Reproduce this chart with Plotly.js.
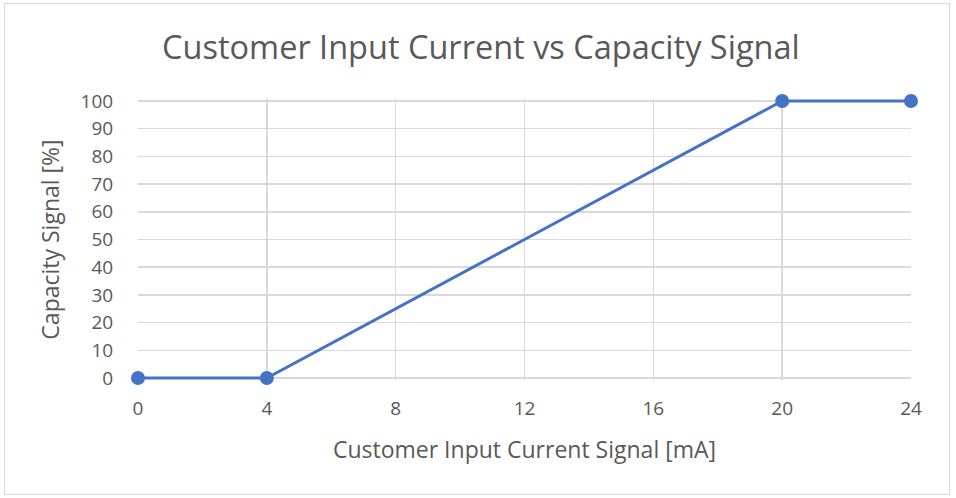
<!DOCTYPE html>
<html>
<head>
<meta charset="utf-8">
<script src="https://cdn.plot.ly/plotly-3.0.1.min.js"></script>
<style>
  html, body { margin: 0; padding: 0; background: #fff; }
  #wrap { position: relative; width: 956px; height: 498px; }
  #chart { width: 956px; height: 498px; }
  #frame { position: absolute; left: 4px; top: 3px; width: 946px; height: 492px;
           border: 1px solid #D9D9D9; pointer-events: none; box-sizing: border-box; }
</style>
</head>
<body>
<div id="wrap">
  <div id="chart"></div>
  <div id="frame"></div>
</div>
<script>
const currentMA = [0, 4, 20, 24];
const capacityPct = [0, 0, 100, 100];
const xTicks = [0, 4, 8, 12, 16, 20, 24];
const yTicks = [0, 10, 20, 30, 40, 50, 60, 70, 80, 90, 100];

const textColor = '#595959';
const gridColor = '#D9D9D9';
const fontFamily = 'Open Sans, sans-serif';

const trace = {
  x: currentMA,
  y: capacityPct,
  type: 'scatter',
  mode: 'lines+markers',
  line: { color: '#4472C4', width: 3 },
  marker: { color: '#4472C4', size: 14 },
  cliponaxis: false,
  hoverinfo: 'x+y'
};

const layout = {
  width: 956,
  height: 498,
  margin: { l: 138, r: 45, t: 99, b: 118 },
  paper_bgcolor: '#fff',
  plot_bgcolor: '#fff',
  showlegend: false,
  font: { family: fontFamily, color: textColor, size: 19 },
  title: {
    text: 'Customer Input Current vs Capacity Signal',
    font: { family: fontFamily, size: 32.5, color: textColor },
    x: 0.503, xanchor: 'center',
    y: 0.905, yanchor: 'middle'
  },
  xaxis: {
    range: [0, 24],
    tickvals: xTicks,
    ticktext: xTicks.map(String),
    showgrid: true,
    gridcolor: gridColor,
    gridwidth: 1.5,
    zeroline: false,
    showline: false,
    layer: 'below traces',
    ticks: 'outside',
    ticklen: 11,
    tickcolor: 'rgba(0,0,0,0)',
    tickfont: { family: fontFamily, size: 19, color: textColor },
    title: {
      text: 'Customer Input Current Signal [mA]',
      font: { family: fontFamily, size: 23, color: textColor },
      standoff: 22
    },
    fixedrange: true
  },
  yaxis: {
    range: [-0.722, 100.722],
    tickvals: yTicks,
    ticktext: yTicks.map(String),
    showgrid: true,
    gridcolor: gridColor,
    gridwidth: 1.5,
    zeroline: false,
    showline: false,
    layer: 'below traces',
    ticks: 'outside',
    ticklen: 20,
    tickcolor: 'rgba(0,0,0,0)',
    tickfont: { family: fontFamily, size: 19, color: textColor },
    title: {
      text: 'Capacity Signal [%]',
      font: { family: fontFamily, size: 23, color: textColor },
      standoff: 14
    },
    fixedrange: true
  }
};

Plotly.newPlot('chart', [trace], layout, { displayModeBar: false, staticPlot: true });
</script>
</body>
</html>
